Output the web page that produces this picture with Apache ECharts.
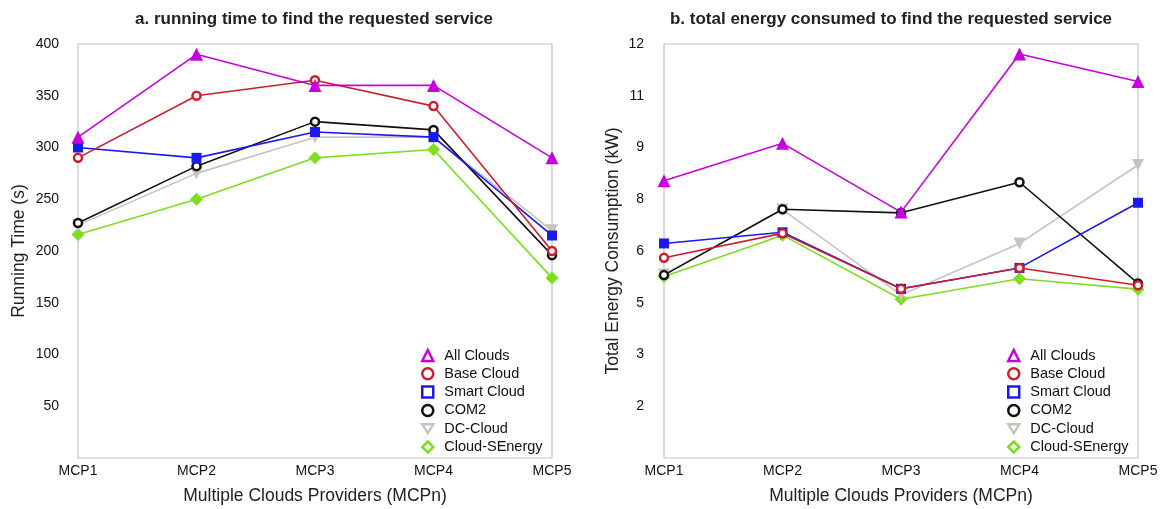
<!DOCTYPE html>
<html><head><meta charset="utf-8">
<script src="https://cdn.jsdelivr.net/npm/echarts@6/dist/echarts.min.js"></script>
<style>html,body{margin:0;padding:0;background:#fff}#c{width:1161px;height:509px}</style>
</head><body><div id="c"></div>
<script>
const categories = ['MCP1','MCP2','MCP3','MCP4','MCP5'];
const seriesNames = ['All Clouds','Base Cloud','Smart Cloud','COM2','DC-Cloud','Cloud-SEnergy'];
// Running time (s)
const timeAllClouds = [310, 390, 360, 360, 290];
const timeBaseCloud = [290, 350, 365, 340, 200];
const timeSmartCloud = [300, 290, 315, 310, 215];
const timeCOM2 = [227, 282, 325, 317, 196];
const timeDCCloud = [225, 275, 310, 310, 220];
const timeSEnergy = [216, 250, 290, 298, 174];
// Energy (kW)
const energyAllClouds = [8.2, 9.24, 7.33, 11.72, 10.96];
const energyBaseCloud = [6.06, 6.74, 5.2, 5.78, 5.3];
const energySmartCloud = [6.46, 6.77, 5.2, 5.78, 7.59];
const energyCOM2 = [5.58, 7.41, 7.31, 8.16, 5.35];
const energyDCCloud = [5.6, 7.4, 5.03, 6.46, 8.64];
const energySEnergy = [5.54, 6.69, 4.91, 5.48, 5.19];

const colors = ['#c800e0','#cc1f2e','#1a1af0','#111111','#c8c4bc','#7ddf1e'];
const FONT = 'Liberation Sans, Arial, sans-serif';

const styles = [
  {symbol:'triangle', symbolSize:13, itemStyle:{color:colors[0]}},
  {symbol:'circle', symbolSize:8, itemStyle:{color:'#fff', borderColor:colors[1], borderWidth:2.5}},
  {symbol:'rect', symbolSize:10, itemStyle:{color:colors[2]}},
  {symbol:'circle', symbolSize:8, itemStyle:{color:'#fff', borderColor:colors[3], borderWidth:2.5}},
  {symbol:'triangle', symbolRotate:180, symbolSize:12, itemStyle:{color:colors[4]}},
  {symbol:'diamond', symbolSize:13, itemStyle:{color:colors[5]}}
];
const legendIcons = ['triangle','circle','rect','circle','path://M0,0 L10,0 L5,8 Z','diamond'];

const timeData = [timeAllClouds,timeBaseCloud,timeSmartCloud,timeCOM2,timeDCCloud,timeSEnergy];
const energyData = [energyAllClouds,energyBaseCloud,energySmartCloud,energyCOM2,energyDCCloud,energySEnergy];

function mk(data, idx) {
  return data.map((d,i)=>Object.assign({
    name: seriesNames[i], type:'line', xAxisIndex:idx, yAxisIndex:idx, data:d,
    lineStyle:{color:colors[i], width:1.6}, z: 10 - i, animation:false
  }, styles[i]));
}
function legend(left) {
  return {
    left: left, top: 343, orient:'vertical', itemGap:3.3, itemWidth:11, itemHeight:11,
    textStyle:{fontFamily:FONT, fontSize:14.5, lineHeight:14, color:'#111', padding:[0,0,0,6]},
    data: seriesNames.map((n,i)=>({name:n, icon:legendIcons[i],
      itemStyle:{color:'#fff', borderColor:colors[i], borderWidth:2.5}}))
  };
}
const axisNameStyle = {fontFamily:FONT, fontSize:17.5, color:'#222'};
const labelStyle = {fontFamily:FONT, fontSize:14, color:'#111'};
function xAx(idx){ return {type:'category', gridIndex:idx, data:categories, boundaryGap:false,
  axisLine:{show:false}, axisTick:{show:false}, axisLabel:Object.assign({margin:6},labelStyle),
  name:'Multiple Clouds Providers (MCPn)', nameLocation:'middle', nameGap:29, nameTextStyle:axisNameStyle}; }

const chart = echarts.init(document.getElementById('c'), null, {renderer:'canvas'});
chart.setOption({
  animation:false,
  title:[
    {text:'a. running time to find the requested service', left:309, top:6, textAlign:'center',
     textStyle:{fontFamily:FONT, fontSize:17, fontWeight:'bold', color:'#222'}},
    {text:'b. total energy consumed to find the requested service', left:886, top:6, textAlign:'center',
     textStyle:{fontFamily:FONT, fontSize:17, fontWeight:'bold', color:'#222'}}
  ],
  grid:[
    {left:78, right:609, top:44, bottom:51, show:true, borderColor:'#c4c4c4', borderWidth:1.2, outerBoundsMode:'none'},
    {left:664, right:23, top:44, bottom:51, show:true, borderColor:'#c4c4c4', borderWidth:1.2, outerBoundsMode:'none'}
  ],
  legend:[legend(416), legend(1002)],
  xAxis:[xAx(0), xAx(1)],
  yAxis:[
    {type:'value', gridIndex:0, min:0, max:400, interval:50,
     axisLine:{show:false}, axisTick:{show:false}, splitLine:{show:false},
     axisLabel:Object.assign({margin:19, showMinLabel:false}, labelStyle),
     name:'Running Time (s)', nameLocation:'middle', nameGap:50, nameTextStyle:axisNameStyle},
    {type:'value', gridIndex:1, min:0.5, max:12, interval:1.4375,
     axisLine:{show:false}, axisTick:{show:false}, splitLine:{show:false},
     axisLabel:Object.assign({margin:20, showMinLabel:false, formatter:v=>String(Math.round(v))}, labelStyle),
     name:'Total Energy Consumption (kW)', nameLocation:'middle', nameGap:42, nameTextStyle:axisNameStyle}
  ],
  series: mk(timeData,0).concat(mk(energyData,1))
});
</script></body></html>
